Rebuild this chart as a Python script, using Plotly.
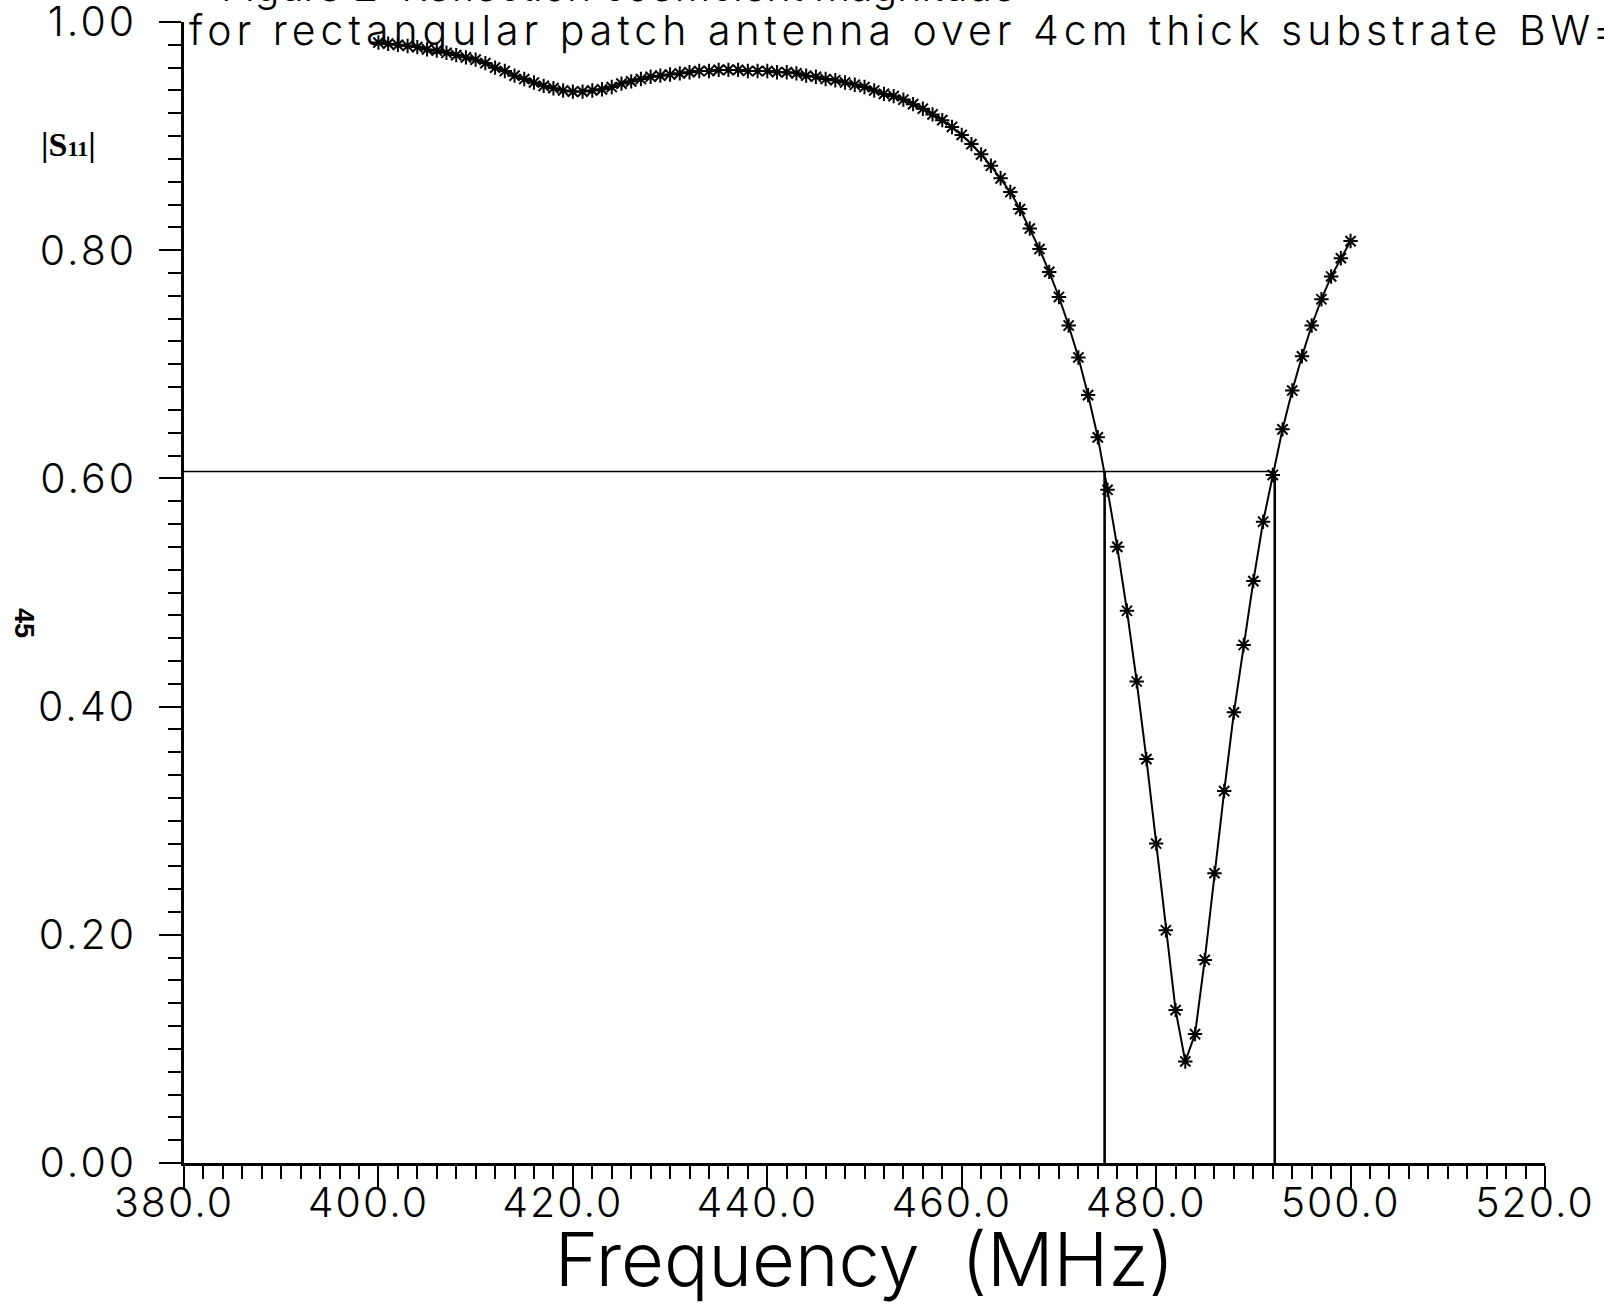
import plotly.graph_objects as go

# Swept frequency points (MHz) and measured reflection magnitude |S11|
freq_mhz = [
    400, 401, 402, 403, 404, 405, 406, 407, 408, 409,
    410, 411, 412, 413, 414, 415, 416, 417, 418, 419,
    420, 421, 422, 423, 424, 425, 426, 427, 428, 429,
    430, 431, 432, 433, 434, 435, 436, 437, 438, 439,
    440, 441, 442, 443, 444, 445, 446, 447, 448, 449,
    450, 451, 452, 453, 454, 455, 456, 457, 458, 459,
    460, 461, 462, 463, 464, 465, 466, 467, 468, 469,
    470, 471, 472, 473, 474, 475, 476, 477, 478, 479,
    480, 481, 482, 483, 484, 485, 486, 487, 488, 489,
    490, 491, 492, 493, 494, 495, 496, 497, 498, 499,
    500,
]
s11_mag = [
    0.982, 0.981, 0.980, 0.979, 0.978, 0.976, 0.975, 0.973, 0.971, 0.969,
    0.967, 0.964, 0.960, 0.957, 0.953, 0.950, 0.947, 0.944, 0.942, 0.940,
    0.939, 0.939, 0.940, 0.941, 0.943, 0.946, 0.948, 0.950, 0.952, 0.953,
    0.954, 0.955, 0.956, 0.957, 0.957, 0.958, 0.958, 0.958, 0.957, 0.957,
    0.957, 0.956, 0.956, 0.955, 0.953, 0.952, 0.950, 0.949, 0.947, 0.945,
    0.943, 0.940, 0.937, 0.935, 0.932, 0.928, 0.924, 0.919, 0.914, 0.908,
    0.901, 0.893, 0.884, 0.874, 0.863, 0.851, 0.836, 0.819, 0.801, 0.781,
    0.759, 0.734, 0.706, 0.673, 0.636, 0.590, 0.540, 0.484, 0.422, 0.354,
    0.280, 0.204, 0.134, 0.089, 0.113, 0.178, 0.254, 0.326, 0.395, 0.454,
    0.510, 0.562, 0.603, 0.643, 0.677, 0.707, 0.734, 0.757, 0.777, 0.793,
    0.808,
]

# Bandwidth construction: |S11| threshold and the two band-edge frequencies
threshold = 0.606
band_edges = [474.7, 492.2]

x_range = [380, 520]
y_range = [0, 1]
x_ticks = [380, 400, 420, 440, 460, 480, 500, 520]
x_ticklabels = ["380.0", "400.0", "420.0", "440.0", "460.0", "480.0", "500.0", "520.0"]
y_ticks = [0.0, 0.2, 0.4, 0.6, 0.8, 1.0]
y_ticklabels = ["0.00", "0.20", "0.40", "0.60", "0.80", "1.00"]

title_lines = [
    "Figure 2: Reflection coefficient magnitude",
    "for rectangular patch antenna over 4cm thick substrate BW=17.5MHz",
]

FONT = "Inter"
INK = "black"


def spaced(text, px):
    """Wrap a label so it is drawn with extra letter spacing."""
    return f"<span style='letter-spacing:{px}px'>{text}</span>"


fig = go.Figure()

# Threshold line from the axis to the upper band edge
fig.add_trace(go.Scatter(
    x=[x_range[0], band_edges[1]], y=[threshold, threshold],
    mode="lines", line=dict(color=INK, width=1.6),
    hoverinfo="skip", showlegend=False,
))
# Vertical band-edge lines
for f_edge in band_edges:
    fig.add_trace(go.Scatter(
        x=[f_edge, f_edge], y=[y_range[0], threshold],
        mode="lines", line=dict(color=INK, width=2.6),
        hoverinfo="skip", showlegend=False,
    ))

# Measured curve with asterisk markers
fig.add_trace(go.Scatter(
    x=freq_mhz, y=s11_mag,
    mode="lines+markers",
    line=dict(color=INK, width=2),
    marker=dict(symbol="asterisk-open", size=12, color=INK,
                line=dict(color=INK, width=2)),
    showlegend=False,
))

tick_font = dict(family=FONT, size=41, color=INK, weight=300)

fig.update_xaxes(
    range=x_range, tickmode="array", tickvals=x_ticks,
    ticktext=[spaced(t, 2) for t in x_ticklabels],
    showline=True, linecolor=INK, linewidth=2.5, mirror=False,
    ticks="outside", ticklen=22, tickwidth=2, tickcolor=INK,
    minor=dict(dtick=2, ticks="outside", ticklen=13, tickwidth=2, tickcolor=INK),
    showgrid=False, zeroline=False, tickfont=tick_font, automargin=False,
    ticklabeloverflow="allow",
    title=dict(text="Frequency  (MHz)", font=dict(family=FONT, size=74, color=INK, weight=300),
               standoff=0),
)
fig.update_yaxes(
    range=y_range, tickmode="array", tickvals=y_ticks,
    ticktext=[spaced(t, 3) for t in y_ticklabels],
    showline=True, linecolor=INK, linewidth=2.5, mirror=False,
    ticks="outside", ticklen=22, tickwidth=2, tickcolor=INK,
    minor=dict(dtick=0.02, ticks="outside", ticklen=13, tickwidth=2, tickcolor=INK),
    showgrid=False, zeroline=False, tickfont=tick_font, automargin=False,
    ticklabelstandoff=14, ticklabeloverflow="allow",
)
try:
    fig.update_xaxes(ticklabelstandoff=-20)
except ValueError:
    pass
try:
    fig.update_xaxes(ticklabelshift=-10)
except ValueError:
    pass

fig.add_annotation(
    text=title_lines[0], xref="paper", yref="paper", x=0.026, y=1.008,
    xanchor="left", yanchor="bottom", showarrow=False,
    font=dict(family=FONT, size=41, color=INK, weight=300),
)
fig.add_annotation(
    text=spaced(title_lines[1], 5), xref="paper", yref="paper", x=0.002, y=0.969,
    xanchor="left", yanchor="bottom", showarrow=False,
    font=dict(family=FONT, size=41, color=INK, weight=300),
)
fig.add_annotation(
    text="|S<span style='font-size:22px'>11</span>|", xref="paper", yref="paper",
    x=-0.085, y=0.893, xanchor="center", yanchor="middle", showarrow=False,
    font=dict(family="Liberation Serif", size=34, color=INK, weight=700),
)
fig.add_annotation(
    text="45", xref="paper", yref="paper", x=-0.118, y=0.473,
    xanchor="center", yanchor="middle", showarrow=False, textangle=90,
    font=dict(family="Liberation Sans", size=27, color=INK, weight=700),
)

fig.update_layout(
    width=1604, height=1304,
    margin=dict(l=184, r=59, t=22, b=141),
    paper_bgcolor="white", plot_bgcolor="white",
)

fig.write_html("out.html")
